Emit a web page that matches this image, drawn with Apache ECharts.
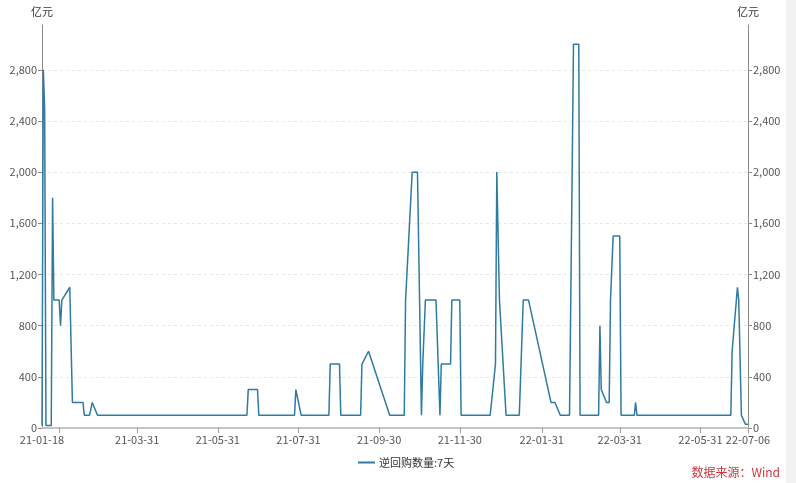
<!DOCTYPE html>
<html><head><meta charset="utf-8">
<script src="https://cdn.jsdelivr.net/npm/echarts@6/dist/echarts.min.js"></script>
<style>html,body{margin:0;padding:0;background:#fff;}#c{width:796px;height:483px;}#strip{position:absolute;left:786px;top:0;width:10px;height:483px;background:#f2f2f2;}</style>
</head><body><div id="c"></div><div id="strip"></div>
<script>
const dates = ['2021-01-18','2021-01-19','2021-01-20','2021-01-21','2021-01-25','2021-01-26','2021-01-27','2021-01-31','2021-02-01','2021-02-02',
  '2021-02-08','2021-02-10','2021-02-18','2021-02-19','2021-02-23','2021-02-25','2021-03-01','2021-06-22','2021-06-23','2021-06-30',
  '2021-07-01','2021-07-28','2021-07-29','2021-08-02','2021-08-23','2021-08-24','2021-08-31','2021-09-01','2021-09-16','2021-09-17',
  '2021-09-22','2021-10-08','2021-10-19','2021-10-20','2021-10-21','2021-10-25','2021-10-29','2021-11-01','2021-11-02','2021-11-03',
  '2021-11-04','2021-11-12','2021-11-15','2021-11-16','2021-11-23','2021-11-24','2021-11-30','2021-12-01','2021-12-23','2021-12-27',
  '2021-12-28','2021-12-29','2021-12-30','2021-12-31','2022-01-04','2022-01-14','2022-01-17','2022-01-21','2022-02-07','2022-02-10',
  '2022-02-14','2022-02-21','2022-02-23','2022-02-24','2022-02-28','2022-03-01','2022-03-15','2022-03-16','2022-03-17','2022-03-18',
  '2022-03-21','2022-03-23','2022-03-24','2022-03-26','2022-03-31','2022-04-01','2022-04-11','2022-04-12','2022-04-13','2022-06-23',
  '2022-06-24','2022-06-28','2022-06-29','2022-07-01','2022-07-04','2022-07-06'];
const values = [20,2800,2500,20,20,1800,1000,1000,800,1000,
  1100,200,200,100,100,200,100,100,300,300,
  100,100,300,100,100,500,500,100,100,500,
  600,100,100,1000,1000,2000,2000,100,500,500,
  1000,1000,100,500,500,1000,1000,100,100,500,
  2000,2000,1000,1000,100,100,1000,1000,200,200,
  100,100,2000,3000,3000,100,100,800,300,300,
  200,200,1000,1500,1500,100,100,200,100,100,
  600,1100,1000,100,30,30];
const xLabelDates = ['2021-01-18','2021-03-31','2021-05-31','2021-07-31','2021-09-30','2021-11-30','2022-01-31','2022-03-31','2022-05-31','2022-07-06'];
const xTickDates = ['2021-01-31','2021-03-31','2021-05-31','2021-07-31','2021-09-30','2021-11-30','2022-01-31','2022-03-31','2022-05-31','2022-07-06'];
const yTicks = [0,400,800,1200,1600,2000,2400,2800];
const yMax = 3150;
const seriesName = '逆回购数量:7天';
const unitName = '亿元';
const sourceText = '数据来源：Wind';

function ts(s){const p=s.split('-');return Date.UTC(+p[0],+p[1]-1,+p[2]);}
function fmt(v){const d=new Date(v);return String(d.getUTCFullYear()).slice(2)+'-'+String(d.getUTCMonth()+1).padStart(2,'0')+'-'+String(d.getUTCDate()).padStart(2,'0');}
const font = "'Noto Sans CJK SC','Noto Sans',sans-serif";
const seriesData = dates.map((d,i)=>[ts(d), values[i]]);
const lineColor = '#2f7aa0';

const yAxisBase = (pos, showSplit) => ({
  type:'value', position:pos, min:0, max:yMax,
  name:unitName, nameLocation:'end', nameGap:8,
  nameTextStyle:{color:'#333', fontSize:11, fontFamily:font},
  axisLine:{show:true, lineStyle:{color:'#8a8a8a', width:1}},
  axisTick:{show:true, length:4, lineStyle:{color:'#8a8a8a'}, customValues:yTicks},
  axisLabel:{color:'#555', fontSize:11, fontFamily:font, margin:5, customValues:yTicks,
    formatter:v=>v.toLocaleString('en-US')},
  splitLine:{show:showSplit, lineStyle:{color:'#e8e8e8', type:[3,3]}}
});

const chart = echarts.init(document.getElementById('c'), null, {renderer:'canvas'});
chart.setOption({
  backgroundColor:'#fff',
  animation:false,
  grid:{left:42, right:48, top:25, bottom:55, containLabel:false},
  legend:{left:353, top:452, icon:'rect', itemWidth:17, itemHeight:2, itemGap:6,
    textStyle:{color:'#333', fontSize:11, fontFamily:font, padding:[0,0,0,-1]}, data:[seriesName]},
  xAxis:{type:'value', min:ts(xLabelDates[0]), max:ts(xLabelDates[xLabelDates.length-1]),
    axisLine:{show:true, lineStyle:{color:'#c4c4c4', width:2}},
    axisTick:{show:true, length:5, lineStyle:{color:'#999'}, customValues:xTickDates.map(ts)},
    axisLabel:{color:'#555', fontSize:11, fontFamily:font, margin:6, customValues:xLabelDates.map(ts), formatter:v=>fmt(v)},
    splitLine:{show:false}},
  yAxis:[yAxisBase('left', true), yAxisBase('right', false)],
  series:[{name:seriesName, type:'line', data:seriesData, symbol:'none', yAxisIndex:0,
    lineStyle:{color:lineColor, width:1.5}, itemStyle:{color:lineColor}}],
  graphic:[{type:'text', right:16, top:466, style:{text:sourceText, fill:'#c9383a', fontSize:12, fontFamily:font}}]
});
</script></body></html>
